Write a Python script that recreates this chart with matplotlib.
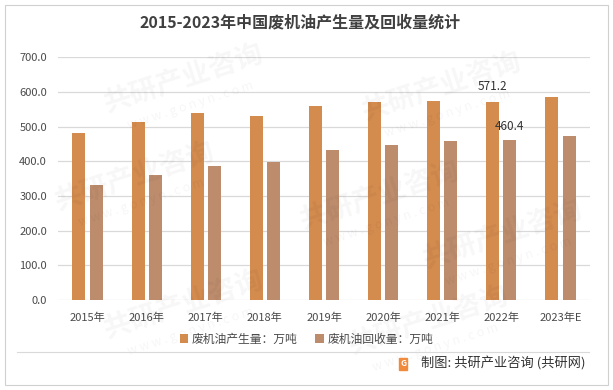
import matplotlib
matplotlib.use("Agg")
import matplotlib.pyplot as plt
import numpy as np
from matplotlib.patches import Rectangle

plt.rcParams['font.family'] = ['Noto Sans CJK SC', 'DejaVu Sans']

categories = ["2015年", "2016年", "2017年", "2018年", "2019年", "2020年", "2021年", "2022年", "2023年E"]
production = [482, 513, 539, 531, 560, 571, 574, 571.2, 586]
recovery = [332, 361, 387, 398, 433, 447, 459, 460.4, 473]
series_names = ["废机油产生量：万吨", "废机油回收量：万吨"]
title = "2015-2023年中国废机油产生量及回收量统计"
source = "制图: 共研产业咨询 (共研网)"
yticks = [0, 100, 200, 300, 400, 500, 600, 700]

c_prod = "#D38B4E"
c_rec = "#BC8C6C"
txt = "#4A4A4A"

fig = plt.figure(figsize=(6.13, 3.90), dpi=100)

# faint watermarks
wm_pos = [(0.30, 0.80), (0.72, 0.78), (0.22, 0.55), (0.62, 0.50), (0.30, 0.22), (0.70, 0.18), (0.82, 0.40)]
for (wx, wy) in wm_pos:
    fig.text(wx, wy, "共研产业咨询", ha="center", va="center", fontsize=20, fontweight="bold",
             color="#000000", alpha=0.035, rotation=18, zorder=0)
    fig.text(wx + 0.01, wy - 0.07, "w w w . g o n y n . c o m", ha="center", va="center", fontsize=9,
             color="#000000", alpha=0.04, rotation=18, zorder=0)

ax = fig.add_axes([58/613, 1-300/390, 532/613, (300-57.3)/390])
ax.patch.set_alpha(0)

x = np.arange(len(categories))
w = 0.22
off = 0.145
ax.bar(x - off, production, width=w, color=c_prod, label=series_names[0], zorder=3)
ax.bar(x + off, recovery, width=w, color=c_rec, label=series_names[1], zorder=3)

ax.set_xlim(-0.5, len(categories) - 0.5)
ax.set_ylim(0, 700)
ax.set_yticks(yticks)
ax.set_yticklabels([f"{v:.1f}" for v in yticks], fontsize=8, color=txt)
ax.set_xticks(x)
ax.set_xticklabels(categories, fontsize=8, color=txt)
ax.tick_params(axis='both', length=0)
ax.tick_params(axis='x', pad=9)
ax.tick_params(axis='y', pad=8)
ax.grid(axis='y', color="#D9D9D9", linewidth=0.9, zorder=0)
for s in ax.spines.values():
    s.set_visible(False)

# data labels for 2022
i = 7
ax.annotate(f"{production[i]:.1f}", (x[i] - off, production[i]), xytext=(0, 11),
            textcoords="offset points", ha="center", va="center", fontsize=8.5, color="#333333")
ax.annotate(f"{recovery[i]:.1f}", (x[i] + off, recovery[i]), xytext=(0, 10),
            textcoords="offset points", ha="center", va="center", fontsize=8.5, color="#333333")

fig.text(0.49, 1-22/390, title, ha="center", va="center", fontsize=11.5, fontweight="bold", color="#404040")

leg = fig.legend(loc="center", bbox_to_anchor=(0.5, 1-339/390), ncol=2, frameon=False,
                 fontsize=8.5, handlelength=0.7, handleheight=0.7, handletextpad=0.3, columnspacing=1.5,
                 labelcolor=txt)

# separator line and border
fig.add_artist(plt.Line2D([17/613, 589/613], [1-352/390, 1-352/390], color="#D9D9D9", linewidth=0.8))
fig.add_artist(Rectangle((5/613, 1-385/390), 603/613, 380/390, fill=False, edgecolor="#D0D0D0", linewidth=0.8,
                         transform=fig.transFigure))

# logo + source
fig.add_artist(Rectangle((399/613, 1-370/390), 8/613, 12/390, color="#F08A3C", transform=fig.transFigure))
fig.text(403/613, 1-364/390, "G", ha="center", va="center", fontsize=6, fontweight="bold", color="white")
fig.text(421/613, 1-364/390, source, ha="left", va="center", fontsize=9.5, color="#333333")

fig.savefig("out.png", dpi=100)
